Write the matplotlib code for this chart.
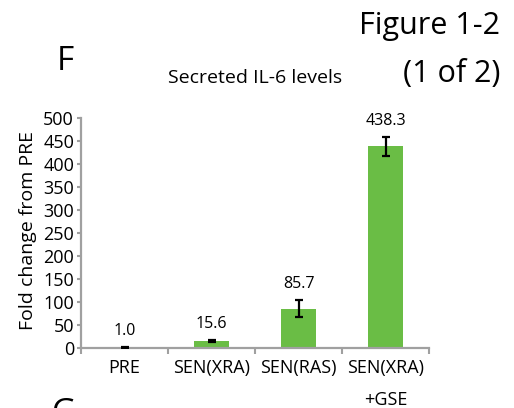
import numpy as np
import matplotlib
matplotlib.use('Agg')
import matplotlib.pyplot as plt

categories = ['PRE', 'SEN(XRA)', 'SEN(RAS)', 'SEN(XRA)\n+GSE']
values = [1.0, 15.6, 85.7, 438.3]
errors = [1.0, 2.0, 18.0, 20.0]
labels = ['1.0', '15.6', '85.7', '438.3']
yticks = list(range(0, 501, 50))

plt.rcParams['font.family'] = ['Open Sans', 'DejaVu Sans']
W, H = 514, 408

fig = plt.figure(figsize=(W / 100, H / 100), dpi=100)
ax = fig.add_axes([81 / W, 1 - 348 / H, 348 / W, 230 / H])

x = np.arange(len(categories))
ax.bar(x, values, width=0.4, color='#6abd45', zorder=2)
ax.errorbar(x, values, yerr=errors, fmt='none', ecolor='black',
            elinewidth=1.6, capsize=2.6, capthick=1.6, zorder=3)
for xi, v, e, lab in zip(x, values, errors, labels):
    ax.annotate(lab, (xi, v + e), xytext=(0, 6), textcoords='offset points',
                ha='center', va='bottom', fontsize=11.5)

ax.set_xlim(-0.5, len(categories) - 0.5)
ax.set_ylim(0, 500)
ax.set_yticks(yticks)
ax.set_yticklabels([str(t) for t in yticks], fontsize=13)
ax.set_xticks(x)
ax.set_xticklabels(categories, fontsize=13, linespacing=2.0)
ax.tick_params(axis='x', length=0, pad=8)
ax.set_xticks(np.arange(len(categories) + 1) - 0.5, minor=True)
ax.tick_params(axis='x', which='minor', length=4, color='#a0a0a0', width=1.5)
ax.tick_params(axis='y', length=3, color='#a0a0a0', width=1.5, pad=2)
for s in ['top', 'right']:
    ax.spines[s].set_visible(False)
for s in ['left', 'bottom']:
    ax.spines[s].set_color('#a0a0a0')
    ax.spines[s].set_linewidth(1.6)

fig.text(28 / W, 1 - 230 / H, 'Fold change from PRE', fontsize=14,
         rotation=90, ha='center', va='center')
fig.text(57 / W, 1 - 70 / H, 'F', fontsize=24, ha='left', va='baseline')
fig.text(255 / W, 1 - 83 / H, 'Secreted IL-6 levels', fontsize=14,
         ha='center', va='baseline')
fig.text(500 / W, 1 - 34 / H, 'Figure 1-2', fontsize=22, ha='right', va='baseline')
fig.text(500 / W, 1 - 82 / H, '(1 of 2)', fontsize=22, ha='right', va='baseline')
fig.text(52 / W, 1 - 422 / H, 'G', fontsize=24, ha='left', va='baseline')

fig.savefig('out.png', dpi=100)
